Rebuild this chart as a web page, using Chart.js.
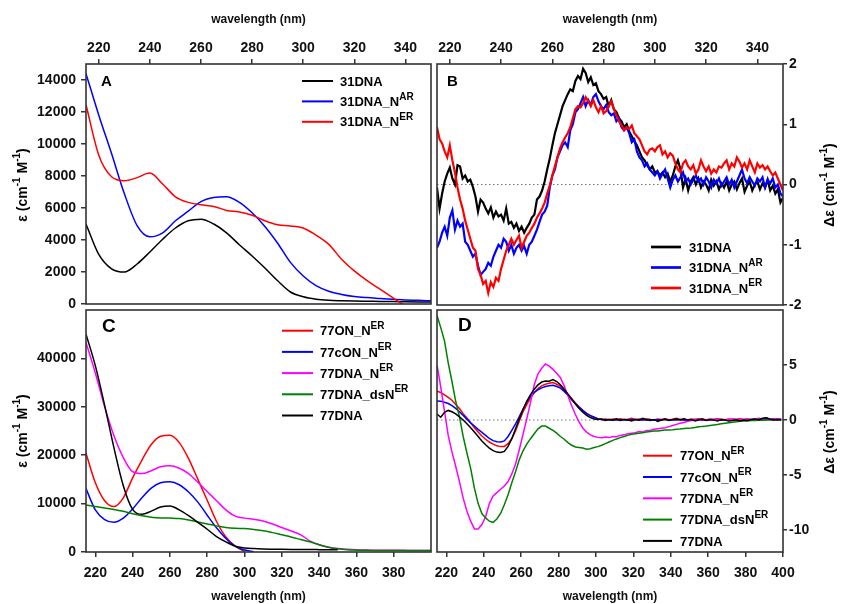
<!DOCTYPE html>
<html>
<head>
<meta charset="utf-8">
<script src="https://cdn.jsdelivr.net/npm/chart.js@4.4.1/dist/chart.umd.min.js"></script>
<style>
    html, body { margin: 0; padding: 0; background: #fff; }
    #wrap { position: relative; width: 841px; height: 604px; overflow: hidden; background: #fff; }
    canvas { position: absolute; }
</style>
</head>
<body>
<div id="wrap">
    <canvas id="chartA" width="436" height="318" style="left:0;top:0;width:436px;height:318px"></canvas>
    <canvas id="chartB" width="407" height="318" style="left:434px;top:0;width:407px;height:318px"></canvas>
    <canvas id="chartC" width="436" height="297" style="left:0;top:307px;width:436px;height:297px"></canvas>
    <canvas id="chartD" width="407" height="297" style="left:434px;top:307px;width:407px;height:297px"></canvas>
</div>
<script>
// ---- data ----
function steps(a, b, d) { const out = []; for (let v = a; v <= b; v += d) out.push(v); return out; }

// panel A (absorbance, 31-mer)
const wlA = [215, 220, 225, 230, 235, 240, 245, 250, 255, 260, 265, 270, 275, 280, 285, 290, 295, 300, 305, 310, 315, 320, 325, 330, 335, 340, 345, 350];
const namesA = ['31DNA', '31DNA_N{AR}', '31DNA_N{ER}'];
const epsA_31DNA = [5000, 3100, 2200, 2000, 2500, 3250, 4050, 4750, 5200, 5300, 5000, 4450, 3700, 3000, 2250, 1450, 750, 450, 300, 230, 200, 180, 170, 160, 150, 140, 130, 120];
const epsA_NAR = [14400, 11800, 9400, 6900, 4900, 4200, 4450, 5200, 5800, 6400, 6650, 6700, 6350, 5700, 4850, 3800, 2600, 1750, 1150, 800, 600, 470, 400, 350, 300, 250, 230, 200];
const epsA_NER = [12450, 9300, 7950, 7700, 7900, 8180, 7500, 6700, 6350, 6200, 6100, 5850, 5750, 5550, 5200, 4950, 4880, 4750, 4300, 3725, 2800, 2070, 1460, 930, 400, -120, -400, -650];

// panel B (CD, 31-mer), 1 nm steps 215..350
const wlB = steps(215, 350, 1);
const cdB_31DNA = [
    -0.05, -0.40, -0.15, 0.05, 0.18, 0.28, 0.10, 0.00, 0.32, 0.30,
    0.10, 0.15, 0.05, 0.08, -0.04, -0.20, -0.45, -0.25, -0.30, -0.40,
    -0.48, -0.38, -0.55, -0.45, -0.53, -0.50, -0.60, -0.40, -0.65, -0.62,
    -0.72, -0.65, -0.77, -0.70, -0.80, -0.72, -0.65, -0.55, -0.50, -0.25,
    -0.20, -0.10, 0.05, 0.25, 0.43, 0.65, 0.85, 1.00, 1.15, 1.30,
    1.40, 1.50, 1.58, 1.55, 1.72, 1.80, 1.75, 1.92, 1.85, 1.70,
    1.78, 1.65, 1.68, 1.55, 1.50, 1.42, 1.45, 1.30, 1.40, 1.25,
    1.20, 1.10, 1.05, 0.95, 1.00, 0.88, 0.80, 0.72, 0.65, 0.55,
    0.45, 0.40, 0.32, 0.25, 0.30, 0.20, 0.22, 0.15, 0.20, 0.12,
    0.18, 0.05, 0.15, 0.30, 0.40, 0.25, -0.05, 0.10, -0.10, 0.05,
    0.12, 0.00, 0.10, -0.05, 0.05, 0.00, -0.10, 0.08, -0.02, 0.05,
    -0.08, 0.02, -0.05, 0.05, -0.10, 0.00, 0.05, -0.08, 0.02, 0.10,
    -0.12, -0.02, 0.05, -0.10, 0.00, 0.05, -0.08, 0.02, -0.05, 0.08,
    -0.10, -0.02, -0.15, -0.08, -0.30, -0.22];
const cdB_NAR = [
    -1.05, -0.95, -0.80, -0.70, -0.85, -0.55, -0.43, -0.75, -0.60, -0.70,
    -0.65, -0.95, -1.00, -1.10, -1.20, -1.15, -1.35, -1.50, -1.45, -1.40,
    -1.30, -1.35, -1.20, -1.10, -1.00, -1.05, -0.90, -0.95, -1.10, -1.00,
    -1.15, -1.05, -1.00, -1.10, -1.02, -1.15, -1.00, -0.95, -0.85, -0.75,
    -0.62, -0.50, -0.45, -0.35, -0.05, 0.15, 0.25, 0.45, 0.55, 0.65,
    0.70, 0.62, 0.90, 1.00, 1.20, 1.25, 1.35, 1.45, 1.30, 1.40,
    1.32, 1.45, 1.50, 1.38, 1.30, 1.25, 1.32, 1.20, 1.15, 1.18,
    1.05, 1.10, 0.95, 0.90, 0.95, 0.85, 0.70, 0.75, 0.55, 0.45,
    0.40, 0.30, 0.35, 0.25, 0.20, 0.15, 0.22, 0.10, 0.18, 0.25,
    0.10, -0.05, 0.08, 0.15, 0.05, 0.12, 0.20, 0.05, 0.10, 0.00,
    0.08, 0.15, 0.05, 0.10, 0.00, 0.12, 0.05, -0.05, 0.08, 0.02,
    0.10, -0.02, 0.05, 0.12, 0.00, 0.08, -0.05, 0.05, 0.15, 0.25,
    0.10, 0.02, 0.12, 0.05, -0.02, 0.10, 0.05, 0.12, -0.05, 0.08,
    0.02, 0.10, -0.05, 0.00, -0.15, -0.20];
const cdB_NER = [
    0.95, 0.75, 0.68, 0.55, 0.45, 0.65, 0.40, 0.20, -0.05, -0.25,
    -0.40, -0.60, -0.75, -0.90, -1.05, -1.10, -1.40, -1.50, -1.65, -1.60,
    -1.80, -1.62, -1.70, -1.55, -1.60, -1.40, -1.25, -1.10, -1.00, -0.90,
    -1.00, -0.92, -0.85, -1.05, -0.95, -0.85, -0.80, -0.72, -0.65, -0.55,
    -0.48, -0.40, -0.30, -0.15, -0.02, 0.15, 0.30, 0.45, 0.60, 0.70,
    0.78, 0.85, 0.95, 1.10, 1.25, 1.30, 1.28, 1.35, 1.45, 1.38,
    1.30, 1.40, 1.28, 1.20, 1.30, 1.18, 1.22, 1.30, 1.38, 1.25,
    1.15, 1.05, 0.98, 0.90, 0.95, 0.92, 0.98, 0.85, 0.80, 0.75,
    0.65, 0.55, 0.50, 0.58, 0.60, 0.55, 0.62, 0.65, 0.50, 0.55,
    0.45, 0.52, 0.48, 0.35, 0.25, 0.20, 0.35, 0.40, 0.30, 0.25,
    0.32, 0.18, 0.25, 0.40, 0.30, 0.22, 0.30, 0.18, 0.25, 0.20,
    0.30, 0.28, 0.35, 0.40, 0.25, 0.35, 0.30, 0.45, 0.38, 0.28,
    0.35, 0.25, 0.40, 0.30, 0.20, 0.35, 0.28, 0.32, 0.25, 0.30,
    0.22, 0.15, 0.20, 0.10, 0.00, -0.10];

// panel C (absorbance, 77-mer)
const wlC = [215, 220, 225, 230, 235, 240, 245, 250, 255, 260, 265, 270, 275, 280, 285, 290, 295, 300, 305, 310, 315, 320, 325, 330, 335, 340, 345, 350, 355, 360, 365, 370, 375, 380, 385, 390, 395, 400];
const namesC = ['77ON_N{ER}', '77cON_N{ER}', '77DNA_N{ER}', '77DNA_dsN{ER}', '77DNA'];
const epsC_ON = [20400, 14300, 10600, 9400, 11200, 15300, 19000, 22200, 23900, 24100, 22600, 19300, 15000, 10700, 6300, 3100, 1200, 100];
const epsC_cON = [13100, 8700, 6700, 6150, 7000, 8900, 11200, 13200, 14300, 14500, 13900, 12400, 10300, 7600, 5000, 2800, 1200, 400, 50];
const epsC_DNA_N = [43300, 37000, 30000, 24000, 19500, 16600, 16200, 16800, 17600, 17800, 17300, 16200, 14400, 12500, 10600, 8700, 7400, 7000, 6750, 6400, 5800, 5050, 4350, 3600, 2300, 1500, 1000, 700, 550, 450, 400, 380, 360, 350, 340, 330, 320, 320];
const epsC_dsN = [9700, 9400, 9100, 8800, 8400, 7900, 7500, 7200, 7050, 7000, 6900, 6600, 6200, 5800, 5400, 5050, 4900, 4850, 4650, 4400, 4000, 3550, 3100, 2600, 2100, 1500, 1000, 650, 450, 380, 350, 330, 320, 310, 300, 300, 300, 300];
const epsC_77DNA = [45000, 38500, 30300, 21500, 13700, 8800, 7800, 8450, 9300, 9500, 8700, 7500, 6100, 4700, 3200, 2100, 1200, 850, 700, 620, 580, 550, 530, 520, 500, 490, 480, 470];

// panel D (CD, 77-mer), 2 nm steps 215..399
const wlD = steps(215, 399, 2);
const cdD_ON = [
    2.62, 2.50, 2.28, 2.05, 1.80, 1.42, 1.05, 0.58, 0.18, -0.26,
    -0.70, -1.10, -1.45, -1.75, -2.00, -2.20, -2.35, -2.42, -2.40, -2.15,
    -1.70, -1.00, -0.10, 0.75, 1.40, 2.00, 2.50, 2.85, 3.10, 3.25,
    3.35, 3.40, 3.25, 3.05, 2.75, 2.35, 1.95, 1.55, 1.20, 0.88,
    0.60, 0.40, 0.25, 0.12, 0.05, 0.10, 0.02, 0.08, 0.05, 0.12,
    0.02, 0.08, 0.15, 0.05, 0.10, 0.02, 0.12, 0.05, 0.00, 0.08,
    0.05, 0.12, 0.02, 0.08, 0.15, 0.05, 0.10, 0.02, 0.08, 0.05,
    0.12, 0.08, 0.02, 0.10, 0.05, 0.12, 0.08, 0.02, 0.10, 0.05,
    0.08, 0.12, 0.05, 0.10, 0.02, 0.08, 0.15, 0.10, 0.20, 0.08,
    0.12, 0.05, 0.10];
const cdD_cON = [
    1.72, 1.70, 1.62, 1.50, 1.30, 1.05, 0.75, 0.42, 0.08, -0.26,
    -0.55, -0.85, -1.12, -1.40, -1.68, -1.88, -1.98, -2.00, -1.90, -1.50,
    -0.95, -0.35, 0.30, 1.00, 1.65, 2.15, 2.50, 2.75, 2.92, 3.05,
    3.12, 3.15, 3.05, 2.90, 2.60, 2.25, 1.85, 1.50, 1.15, 0.85,
    0.58, 0.40, 0.25, 0.10, 0.05, 0.00, 0.05, -0.02, 0.03, 0.00,
    0.05, -0.03, 0.02, 0.05, -0.02, 0.03, 0.00, 0.05, -0.03, 0.02,
    0.00, 0.05, -0.02, 0.03, 0.00, 0.04, -0.02, 0.02, 0.00, 0.05,
    0.02, -0.03, 0.02, 0.00, 0.04, 0.02, -0.02, 0.03, 0.00, 0.05,
    0.02, 0.00, 0.04, 0.02, 0.05, 0.03, 0.06, 0.08, 0.05, 0.10,
    0.06, 0.08, 0.05];
const cdD_DNA_N = [
    5.0, 3.0, 0.8, -1.4, -2.9, -4.2, -5.6, -7.1, -8.3, -9.2,
    -9.9, -9.9, -9.5, -8.8, -7.6, -6.9, -6.6, -6.3, -6.0, -5.6,
    -4.9, -4.0, -2.7, -1.3, 0.1, 1.6, 3.2, 4.2, 4.7, 5.1,
    4.9, 4.6, 4.25, 3.85, 3.1, 2.2, 1.3, 0.5, -0.2, -0.75,
    -1.1, -1.35, -1.5, -1.58, -1.62, -1.55, -1.6, -1.5, -1.52, -1.4,
    -1.35, -1.25, -1.2, -1.15, -1.05, -1.1, -0.95, -0.95, -0.85, -0.8,
    -0.75, -0.7, -0.6, -0.5, -0.4, -0.3, -0.22, -0.12, -0.05, 0.0,
    0.02, 0.05, 0.0, 0.04, 0.02, 0.06, 0.03, 0.0, 0.05, 0.08,
    0.03, 0.05, 0.02, 0.06, 0.04, 0.08, 0.10, 0.12, 0.15, 0.10,
    0.08, 0.12, 0.10];
const cdD_dsN = [
    9.5, 8.4, 7.2, 5.2, 3.5, 1.7, 0.3, -1.5, -3.0, -4.4,
    -6.2, -7.6, -8.5, -8.9, -9.2, -9.3, -9.0, -8.5, -7.7, -6.8,
    -5.7, -4.7, -3.6, -2.8, -2.2, -1.7, -1.25, -0.8, -0.55, -0.55,
    -0.75, -0.95, -1.2, -1.5, -1.75, -2.05, -2.3, -2.45, -2.5, -2.55,
    -2.65, -2.62, -2.5, -2.42, -2.3, -2.15, -2.0, -1.85, -1.72, -1.6,
    -1.5, -1.4, -1.3, -1.25, -1.2, -1.15, -1.1, -1.05, -1.0, -1.0,
    -0.95, -0.92, -0.9, -0.88, -0.85, -0.82, -0.78, -0.75, -0.72, -0.68,
    -0.62, -0.58, -0.55, -0.5, -0.45, -0.4, -0.35, -0.3, -0.25, -0.2,
    -0.15, -0.12, -0.1, -0.08, -0.05, -0.05, -0.03, -0.02, 0.0, 0.02,
    0.0, 0.02, 0.0];
const cdD_77DNA = [
    0.55, 0.25, 0.70, 0.87, 0.75, 0.55, 0.28, 0.00, -0.35, -0.70,
    -1.10, -1.50, -1.90, -2.25, -2.55, -2.78, -2.92, -2.95, -2.85, -2.40,
    -1.70, -0.80, 0.10, 0.95, 1.70, 2.30, 2.80, 3.20, 3.45, 3.55,
    3.52, 3.68, 3.50, 3.20, 2.80, 2.35, 1.90, 1.45, 1.05, 0.70,
    0.42, 0.22, 0.10, 0.05, 0.08, -0.05, 0.05, 0.00, 0.10, -0.05,
    0.05, 0.02, -0.08, 0.05, 0.00, 0.15, 0.02, -0.05, 0.05, -0.12,
    0.00, 0.08, -0.05, 0.05, 0.10, 0.00, 0.12, -0.02, 0.05, -0.08,
    0.02, 0.08, -0.05, 0.05, 0.00, -0.08, 0.05, 0.00, -0.10, -0.05,
    0.02, -0.08, 0.00, -0.05, 0.05, 0.10, 0.00, 0.15, 0.20, 0.08,
    0.00, 0.05, 0.02];

// tick labels
const xTicksAB = [220, 240, 260, 280, 300, 320, 340];
const xTicksC = [220, 240, 260, 280, 300, 320, 340, 360, 380];
const xTicksD = [220, 240, 260, 280, 300, 320, 340, 360, 380, 400];
const yTicksA = [0, 2000, 4000, 6000, 8000, 10000, 12000, 14000];
const yTicksB = [-2, -1, 0, 1, 2];
const yTicksC = [0, 10000, 20000, 30000, 40000];
const yTicksD = [-10, -5, 0, 5];

// ---- drawing helpers ----
const FONT = '"Liberation Sans", Arial, Helvetica, sans-serif';
const tickFont = { family: FONT, size: 14, weight: 'bold' };
const pts = (xs, ys) => ys.map((y, i) => ({ x: xs[i], y: y }));

function richParts(text) {
    return text.split(/(\{[^}]*\})/).filter(s => s).map(s =>
        s[0] === '{' ? { t: s.slice(1, -1), sup: true } : { t: s, sup: false });
}

// text with {superscript} parts, y = visual middle of the caps
function drawRich(ctx, text, x, y, size, align) {
    const parts = richParts(text);
    const supSize = Math.round(size * 0.74);
    const fontOf = p => `bold ${p.sup ? supSize : size}px ${FONT}`;
    let w = 0;
    parts.forEach(p => { ctx.font = fontOf(p); p.w = ctx.measureText(p.t).width; w += p.w; });
    let cx = align === 'center' ? x - w / 2 : x;
    ctx.textAlign = 'left';
    ctx.textBaseline = 'alphabetic';
    const base = y + size * 0.36;
    parts.forEach(p => {
        ctx.font = fontOf(p);
        ctx.fillText(p.t, cx, p.sup ? base - size * 0.5 : base);
        cx += p.w;
    });
}

const frame = {
    id: 'frame',
    afterDraw(chart) {
        const { ctx, chartArea: a } = chart;
        ctx.save();
        ctx.strokeStyle = '#333';
        ctx.lineWidth = 1.6;
        ctx.strokeRect(a.left, a.top, a.right - a.left, a.bottom - a.top);
        ctx.restore();
    }
};

const richLegend = {
    id: 'richLegend',
    afterDraw(chart, args, o) {
        const ctx = chart.ctx;
        ctx.save();
        ctx.fillStyle = '#000';
        // panel letter
        ctx.font = `bold ${o.letterSize}px ${FONT}`;
        ctx.textAlign = 'left';
        ctx.textBaseline = 'middle';
        ctx.fillText(o.letter, o.letterX, o.letterY);
        // legend entries
        chart.data.datasets.filter(d => d.label).forEach((ds, i) => {
            const y = o.y + i * o.rowH;
            ctx.strokeStyle = ds.borderColor;
            ctx.lineWidth = ds.borderWidth + 0.5;
            ctx.setLineDash([]);
            ctx.beginPath();
            ctx.moveTo(o.x, y);
            ctx.lineTo(o.x + o.len, y);
            ctx.stroke();
            drawRich(ctx, ds.label, o.x + o.len + o.gap, y, 13, 'left');
        });
        // y axis title, rotated
        ctx.translate(o.titleX, o.titleY);
        ctx.rotate(-Math.PI / 2);
        drawRich(ctx, o.title, 0, 0, 14, 'center');
        ctx.restore();
    }
};

function line(label, xs, ys, color, width, order, smooth) {
    return {
        label: label,
        data: pts(xs, ys),
        borderColor: color,
        backgroundColor: color,
        borderWidth: width,
        pointRadius: 0,
        fill: false,
        order: order,
        tension: smooth ? 0.4 : 0,
        cubicInterpolationMode: smooth ? 'monotone' : 'default'
    };
}

function zeroLine(x0, x1) {
    return { label: '', data: [{ x: x0, y: 0 }, { x: x1, y: 0 }], borderColor: '#777', borderWidth: 1,
             borderDash: [1.5, 2.5], pointRadius: 0, order: 99 };
}

function panel(id, o) {
    const gridOpts = { display: true, drawOnChartArea: false, drawTicks: true, tickLength: 5, color: '#333', lineWidth: 1.5 };
    return new Chart(document.getElementById(id), {
        type: 'line',
        data: { datasets: o.datasets },
        options: {
            responsive: false,
            animation: false,
            devicePixelRatio: 1,
            layout: { padding: o.padding },
            plugins: { legend: { display: false }, tooltip: { enabled: false }, richLegend: o.legend },
            scales: {
                x: {
                    type: 'linear', position: o.xPos, min: o.xMin, max: o.xMax,
                    afterFit: s => { s.height = o.xH; s.paddingLeft = 0; s.paddingRight = 0; },
                    afterBuildTicks: s => { s.ticks = o.xTicks.map(v => ({ value: v })); },
                    grid: gridOpts,
                    border: { display: false },
                    ticks: { font: tickFont, color: '#111', padding: o.xPad, maxRotation: 0, autoSkip: false, callback: v => String(v) },
                    title: { display: true, text: 'wavelength (nm)', color: '#111', font: { family: FONT, size: 12, weight: 'bold' }, padding: o.xTitlePad }
                },
                y: {
                    type: 'linear', position: o.yPos, min: o.yMin, max: o.yMax,
                    afterFit: s => { s.width = o.yW; s.paddingTop = 0; s.paddingBottom = 0; },
                    afterBuildTicks: s => { s.ticks = o.yTicks.map(v => ({ value: v })); },
                    grid: Object.assign({}, gridOpts, { tickLength: o.yTickLen }),
                    border: { display: false },
                    ticks: { font: tickFont, color: '#111', padding: o.yPad, autoSkip: false, callback: v => String(v) }
                }
            }
        },
        plugins: [frame, richLegend]
    });
}

// ---- panels ----
panel('chartA', {
    datasets: [
        line(namesA[0], wlA, epsA_31DNA, '#000000', 1.5, 3, true),
        line(namesA[1], wlA, epsA_NAR, '#0000ff', 1.5, 2, true),
        line(namesA[2], wlA, epsA_NER, '#ff0000', 1.5, 1, true)
    ],
    padding: { left: 0, top: 0, right: 5, bottom: 14 },
    xPos: 'top', xMin: 215, xMax: 350, xH: 64, xTicks: xTicksAB, xPad: 2, xTitlePad: { top: 12, bottom: 0 },
    yPos: 'left', yMin: 0, yMax: 15000, yW: 86, yTicks: yTicksA, yPad: 5, yTickLen: 5,
    legend: { letter: 'A', letterSize: 15, letterX: 101, letterY: 82,
              x: 302, y: 81, rowH: 20.4, len: 31, gap: 7,
              title: 'ε (cm{-1} M{-1})', titleX: 22, titleY: 185 }
});

panel('chartB', {
    datasets: [
        line(namesA[0], wlB, cdB_31DNA, '#000000', 2.2, 3, false),
        line(namesA[1], wlB, cdB_NAR, '#0000ff', 2.2, 2, false),
        line(namesA[2], wlB, cdB_NER, '#ff0000', 2.2, 1, false),
        zeroLine(215, 350)
    ],
    padding: { left: 3, top: 0, right: 0, bottom: 13 },
    xPos: 'top', xMin: 215, xMax: 350, xH: 64, xTicks: xTicksAB, xPad: 2, xTitlePad: { top: 12, bottom: 0 },
    yPos: 'right', yMin: -2, yMax: 2, yW: 58, yTicks: yTicksB, yPad: 2, yTickLen: 4,
    legend: { letter: 'B', letterSize: 15, letterX: 13, letterY: 82,
              x: 217, y: 247, rowH: 20.5, len: 30, gap: 8,
              title: 'Δε (cm{-1} M{-1})', titleX: 395, titleY: 185 }
});

panel('chartC', {
    datasets: [
        line(namesC[0], wlC, epsC_ON, '#ff0000', 1.5, 5, true),
        line(namesC[1], wlC, epsC_cON, '#0000ff', 1.5, 4, true),
        line(namesC[2], wlC, epsC_DNA_N, '#ff00ff', 1.5, 3, true),
        line(namesC[3], wlC, epsC_dsN, '#008000', 1.5, 2, true),
        line(namesC[4], wlC, epsC_77DNA, '#000000', 1.5, 1, true)
    ],
    padding: { left: 0, top: 3, right: 5, bottom: 0 },
    xPos: 'bottom', xMin: 215, xMax: 400, xH: 52, xTicks: xTicksC, xPad: 8, xTitlePad: { top: 0, bottom: 0 },
    yPos: 'left', yMin: 0, yMax: 50000, yW: 86, yTicks: yTicksC, yPad: 5, yTickLen: 5,
    legend: { letter: 'C', letterSize: 19, letterX: 102, letterY: 20,
              x: 282, y: 23.7, rowH: 21.2, len: 31, gap: 7,
              title: 'ε (cm{-1} M{-1})', titleX: 22, titleY: 124 }
});

panel('chartD', {
    datasets: [
        line(namesC[0], wlD, cdD_ON, '#ff0000', 1.5, 5, false),
        line(namesC[1], wlD, cdD_cON, '#0000ff', 1.5, 4, false),
        line(namesC[2], wlD, cdD_DNA_N, '#ff00ff', 1.5, 3, false),
        line(namesC[3], wlD, cdD_dsN, '#008000', 1.5, 2, false),
        line(namesC[4], wlD, cdD_77DNA, '#000000', 1.5, 1, false),
        zeroLine(215, 400)
    ],
    padding: { left: 3, top: 3, right: 0, bottom: 0 },
    xPos: 'bottom', xMin: 215, xMax: 400, xH: 52, xTicks: xTicksD, xPad: 8, xTitlePad: { top: 0, bottom: 0 },
    yPos: 'right', yMin: -12, yMax: 10, yW: 58, yTicks: yTicksD, yPad: 2, yTickLen: 4,
    legend: { letter: 'D', letterSize: 19, letterX: 24, letterY: 19,
              x: 209, y: 148.7, rowH: 21.3, len: 29, gap: 8,
              title: 'Δε (cm{-1} M{-1})', titleX: 395, titleY: 125 }
});
</script>
</body>
</html>
